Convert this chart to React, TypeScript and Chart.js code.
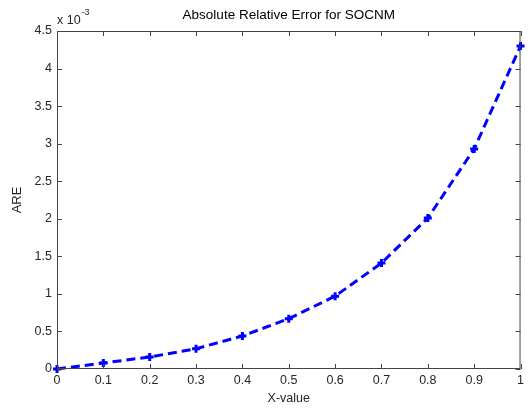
import React, { useEffect, useRef } from "react";
import { Chart, registerables } from "chart.js";

Chart.register(...registerables);

const xValues = [0, 0.1, 0.2, 0.3, 0.4, 0.5, 0.6, 0.7, 0.8, 0.9, 1.0];
const areValues = [0, 0.08, 0.16, 0.27, 0.44, 0.67, 0.97, 1.41, 2.01, 2.93, 4.3]; // x 10^-3
const xTicks = [0, 0.1, 0.2, 0.3, 0.4, 0.5, 0.6, 0.7, 0.8, 0.9, 1];
const yTicks = [0, 0.5, 1, 1.5, 2, 2.5, 3, 3.5, 4, 4.5];
const titleText = "Absolute Relative Error for SOCNM";
const xTitle = "X-value";
const yTitle = "ARE";

const FONT = "'Liberation Sans', Arial, sans-serif";
const AXIS_COLOR = "#444444";
const TEXT_COLOR = "#262626";

const matlabPlugin = {
  id: "matlabDecor",
  afterDraw(chart: any) {
    const ctx = chart.ctx;
    const area = chart.chartArea;
    const xs = chart.scales.x;
    const ys = chart.scales.y;
    ctx.save();
    ctx.strokeStyle = AXIS_COLOR;
    ctx.lineWidth = 1;
    ctx.strokeRect(area.left + 0.5, area.top + 0.5, area.right - area.left - 1, area.bottom - area.top - 1);
    const tl = 5;
    ctx.beginPath();
    xTicks.forEach((v) => {
      const px = Math.round(xs.getPixelForValue(v)) + 0.5;
      ctx.moveTo(px, area.bottom);
      ctx.lineTo(px, area.bottom - tl);
      ctx.moveTo(px, area.top);
      ctx.lineTo(px, area.top + tl);
    });
    yTicks.forEach((v) => {
      const py = Math.round(ys.getPixelForValue(v)) + 0.5;
      ctx.moveTo(area.left, py);
      ctx.lineTo(area.left + tl, py);
      ctx.moveTo(area.right, py);
      ctx.lineTo(area.right - tl, py);
    });
    ctx.stroke();
    ctx.fillStyle = "#000000";
    ctx.font = "13.5px " + FONT;
    ctx.textAlign = "center";
    ctx.textBaseline = "middle";
    ctx.fillText(titleText, (area.left + area.right) / 2, 15);
    ctx.textAlign = "left";
    ctx.textBaseline = "alphabetic";
    ctx.font = "12.5px " + FONT;
    ctx.fillStyle = TEXT_COLOR;
    const base = "x 10";
    ctx.fillText(base, area.left, 24);
    const w = ctx.measureText(base).width;
    ctx.font = "9px " + FONT;
    ctx.fillText("-3", area.left + w + 1, 15);
    ctx.restore();
  },
};

export default function App() {
  const ref = useRef<HTMLCanvasElement | null>(null);
  useEffect(() => {
    document.body.style.margin = "0";
    const canvas = ref.current;
    if (!canvas) return;
    const chart = new Chart(canvas, {
      type: "line",
      data: {
        datasets: [
          {
            data: xValues.map((x, i) => ({ x, y: areValues[i] })),
            borderColor: "#0000ff",
            backgroundColor: "#0000ff",
            borderWidth: 3,
            borderDash: [9, 5],
            pointStyle: "cross",
            pointRadius: 4,
            pointBorderWidth: 3,
            pointBorderColor: "#0000ff",
            fill: false,
            tension: 0,
            clip: false as any,
          },
        ],
      },
      options: {
        animation: false,
        responsive: false,
        maintainAspectRatio: false,
        layout: { padding: { top: 31, right: 3, left: 0, bottom: 0 } },
        plugins: {
          legend: { display: false },
          title: { display: false },
          tooltip: { enabled: false },
        },
        scales: {
          x: {
            type: "linear",
            min: 0,
            max: 1,
            afterBuildTicks: (scale: any) => {
              scale.ticks = xTicks.map((v) => ({ value: v }));
            },
            afterFit: (scale: any) => {
              scale.height = 42;
            },
            grid: { display: false, drawTicks: false },
            border: { display: false },
            ticks: {
              padding: 4,
              color: TEXT_COLOR,
              font: { family: FONT, size: 12.5 },
              maxRotation: 0,
              autoSkip: false,
              callback: (v: any) => String(Math.round(Number(v) * 10) / 10),
            },
            title: {
              display: true,
              text: xTitle,
              color: TEXT_COLOR,
              font: { family: FONT, size: 12.5 },
              padding: { top: 0, bottom: 5 },
            },
          },
          y: {
            type: "linear",
            min: 0,
            max: 4.5,
            afterBuildTicks: (scale: any) => {
              scale.ticks = yTicks.map((v) => ({ value: v }));
            },
            afterFit: (scale: any) => {
              scale.width = 57;
            },
            grid: { display: false, drawTicks: false },
            border: { display: false },
            ticks: {
              padding: 5,
              color: TEXT_COLOR,
              font: { family: FONT, size: 12.5 },
              autoSkip: false,
              callback: (v: any) => String(Math.round(Number(v) * 10) / 10),
            },
            title: {
              display: true,
              text: yTitle,
              color: TEXT_COLOR,
              font: { family: FONT, size: 13 },
              padding: { top: 10, bottom: 0 },
            },
          },
        },
      },
      plugins: [matlabPlugin],
    });
    return () => chart.destroy();
  }, []);
  return (
    <div style={{ width: 528, height: 411, background: "#ffffff" }}>
      <canvas ref={ref} width={528} height={411} style={{ display: "block" }} />
    </div>
  );
}
